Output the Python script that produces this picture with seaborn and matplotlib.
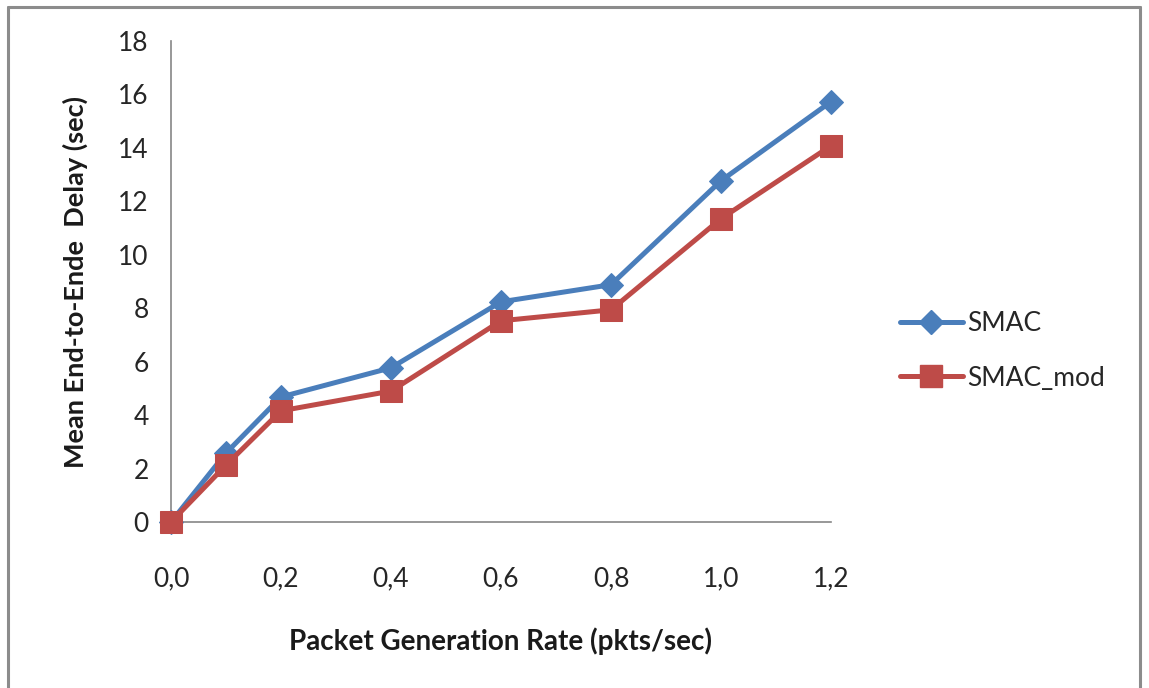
import matplotlib
matplotlib.use("Agg")
import matplotlib.pyplot as plt
import seaborn as sns
import pandas as pd
from matplotlib.lines import Line2D

# Packet generation rate (pkts/sec) and mean end-to-end delay (sec)
rates = [0.0, 0.1, 0.2, 0.4, 0.6, 0.8, 1.0, 1.2]
smac = [0.0, 2.58, 4.68, 5.77, 8.24, 8.88, 12.77, 15.73]
smac_mod = [0.0, 2.13, 4.16, 4.90, 7.53, 7.94, 11.35, 14.08]
series_names = ["SMAC", "SMAC_mod"]
x_ticks = [0.0, 0.2, 0.4, 0.6, 0.8, 1.0, 1.2]
x_tick_labels = ["0,0", "0,2", "0,4", "0,6", "0,8", "1,0", "1,2"]
y_ticks = [0, 2, 4, 6, 8, 10, 12, 14, 16, 18]

df = pd.DataFrame({
    "rate": rates * 2,
    "delay": smac + smac_mod,
    "series": [series_names[0]] * len(rates) + [series_names[1]] * len(rates),
})

sns.set_style("white")
plt.rcParams["font.family"] = ["Lato", "DejaVu Sans"]

colors = {"SMAC": "#4A7EBB", "SMAC_mod": "#BE4B48"}
markers = {"SMAC": "D", "SMAC_mod": "s"}
msizes = {"SMAC": 12, "SMAC_mod": 16}

fig = plt.figure(figsize=(11.49, 6.88), dpi=100)
ax = fig.add_axes([171 / 1149, 1 - 522 / 688, (831 - 171) / 1149, (522 - 41) / 688])

for name in series_names:
    sub = df[df["series"] == name]
    sns.lineplot(data=sub, x="rate", y="delay", ax=ax, color=colors[name],
                 marker=markers[name], markersize=msizes[name],
                 markeredgecolor=colors[name], linewidth=3.6,
                 legend=False, clip_on=False, zorder=3)

ax.set_xlim(0, 1.2)
ax.set_ylim(0, 18)
ax.set_xticks(x_ticks)
ax.set_xticklabels(x_tick_labels)
ax.set_yticks(y_ticks)

for side in ["top", "right"]:
    ax.spines[side].set_visible(False)
for side in ["left", "bottom"]:
    ax.spines[side].set_color("#868686")
    ax.spines[side].set_linewidth(1.2)

ax.tick_params(axis="both", direction="out", length=6, width=1.2,
               color="#868686", labelsize=19, labelcolor="#262626", pad=10)
ax.tick_params(axis="x", pad=26)

ax.set_xlabel("Packet Generation Rate (pkts/sec)", fontsize=20,
              fontweight="bold", color="#1a1a1a", labelpad=26)
ax.set_ylabel("Mean End-to-Ende  Delay (sec)", fontsize=19.5,
              fontweight="bold", color="#1a1a1a", labelpad=22)

handles = [
    Line2D([], [], color=colors[n], marker=markers[n], markersize=msizes[n],
           markeredgecolor=colors[n], linewidth=3.6)
    for n in series_names
]
fig.legend(handles, series_names, loc="center left",
           bbox_to_anchor=(876 / 1149, 1 - 351 / 688), frameon=False,
           fontsize=19, handlelength=2.4, handletextpad=0.15,
           labelspacing=1.1, labelcolor="#262626")

# Outer chart-area frame
frame_kw = dict(color="#8c8c8c", linewidth=2.2, transform=fig.transFigure)
fig.add_artist(Line2D([8 / 1149, 8 / 1149], [0, 1 - 7 / 688], **frame_kw))
fig.add_artist(Line2D([8 / 1149, 1140 / 1149], [1 - 7 / 688, 1 - 7 / 688], **frame_kw))
fig.add_artist(Line2D([1140 / 1149, 1140 / 1149], [0, 1 - 7 / 688], **frame_kw))

fig.savefig("out.png", dpi=100)
